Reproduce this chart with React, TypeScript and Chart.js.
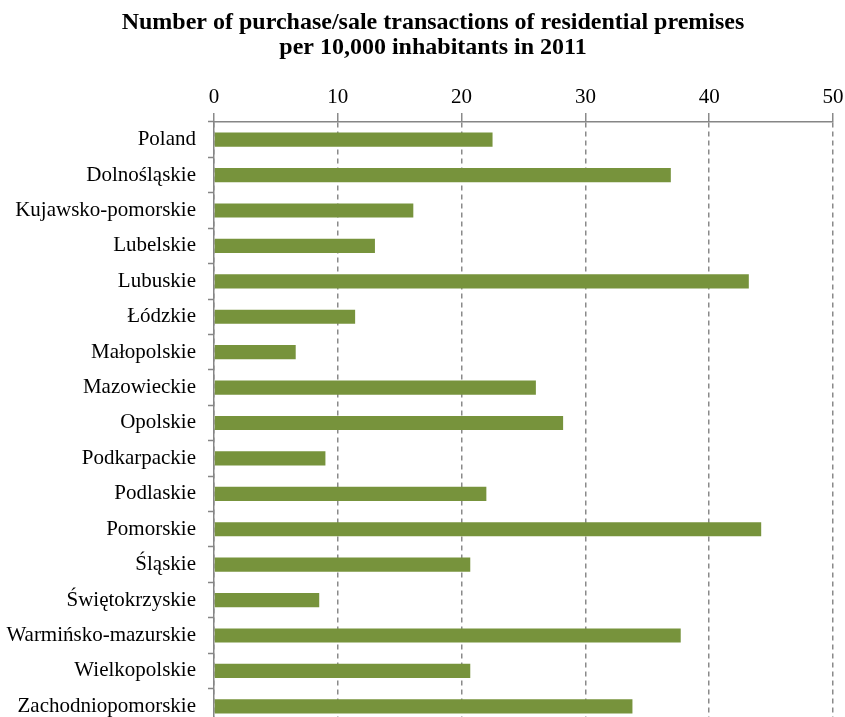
import React, { useEffect, useRef } from "react";
import { Chart, registerables } from "chart.js";

Chart.register(...registerables);

const titleLines = [
  "Number of purchase/sale transactions of residential premises",
  "per 10,000 inhabitants in 2011",
];

const categories = [
  "Poland",
  "Dolnośląskie",
  "Kujawsko-pomorskie",
  "Lubelskie",
  "Lubuskie",
  "Łódzkie",
  "Małopolskie",
  "Mazowieckie",
  "Opolskie",
  "Podkarpackie",
  "Podlaskie",
  "Pomorskie",
  "Śląskie",
  "Świętokrzyskie",
  "Warmińsko-mazurskie",
  "Wielkopolskie",
  "Zachodniopomorskie",
];

const values = [
  22.5, 36.9, 16.1, 13.0, 43.2, 11.4, 6.6, 26.0, 28.2, 9.0, 22.0, 44.2, 20.7,
  8.5, 37.7, 20.7, 33.8,
];

const xMin = 0;
const xMax = 50;
const xStep = 10;

const FONT = '"Liberation Serif", "Times New Roman", serif';
const TITLE_SHIFT = 16.5;

const titleShiftPlugin = {
  id: "titleShift",
  afterLayout(chart: any) {
    const tb = chart.titleBlock;
    if (tb) {
      tb.left += TITLE_SHIFT;
      tb.right += TITLE_SHIFT;
    }
  },
};

export default function App() {
  const ref = useRef<HTMLCanvasElement | null>(null);

  useEffect(() => {
    if (!ref.current) return;
    const chart = new Chart(ref.current, {
      type: "bar",
      data: {
        labels: categories,
        datasets: [
          {
            data: values,
            backgroundColor: "#77933C",
            borderWidth: 0,
            barPercentage: 0.4,
            categoryPercentage: 1,
          },
        ],
      },
      plugins: [titleShiftPlugin],
      options: {
        indexAxis: "y",
        animation: false,
        responsive: true,
        maintainAspectRatio: false,
        layout: { padding: { top: 0, right: 12, bottom: 0, left: 0 } },
        plugins: {
          legend: { display: false },
          tooltip: { enabled: false },
          title: {
            display: true,
            text: titleLines,
            color: "#000",
            font: { family: FONT, size: 24, weight: "bold", lineHeight: 1.04 },
            padding: { top: 10, bottom: 0 },
          },
        },
        scales: {
          x: {
            position: "top",
            min: xMin,
            max: xMax,
            ticks: {
              stepSize: xStep,
              color: "#000",
              font: { family: FONT, size: 21 },
              padding: 3,
            },
            grid: {
              color: "#8a8a8a",
              lineWidth: 1.5,
              drawTicks: true,
              tickLength: 9,
              tickColor: "#8a8a8a",
              tickWidth: 1.5,
              tickBorderDash: [],
            },
            border: {
              display: true,
              color: "#868686",
              width: 1.5,
              dash: [5, 4],
            },
            afterFit: (scale: any) => {
              scale.height = 122 - 60;
              scale.paddingLeft = 0;
              scale.paddingRight = 0;
            },
          },
          y: {
            ticks: {
              color: "#000",
              font: { family: FONT, size: 21 },
              padding: 12,
              autoSkip: false,
            },
            grid: {
              drawOnChartArea: false,
              drawTicks: true,
              tickLength: 6,
              tickColor: "#868686",
              tickWidth: 1.5,
              offset: true,
            },
            border: { display: true, color: "#868686", width: 1.5 },
            afterFit: (scale: any) => {
              scale.width = 214;
              scale.paddingTop = 0;
              scale.paddingBottom = 0;
            },
          },
        },
      },
    });
    return () => chart.destroy();
  }, []);

  return (
    <div
      style={{
        position: "fixed",
        left: 0,
        top: 0,
        width: 845,
        height: 717,
        overflow: "hidden",
        background: "#fff",
      }}
    >
      <div style={{ position: "relative", width: 845, height: 724 }}>
        <canvas ref={ref} />
      </div>
    </div>
  );
}
